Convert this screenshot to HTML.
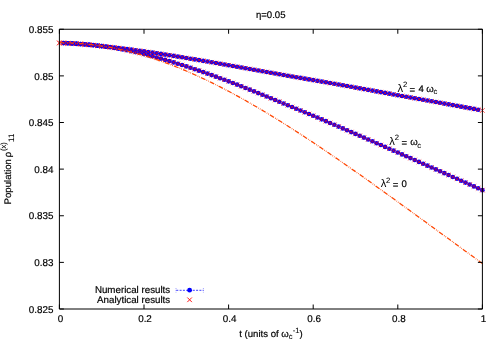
<!DOCTYPE html>
<html><head><meta charset="utf-8"><title>plot</title>
<style>html,body{margin:0;padding:0;background:#fff}svg{display:block;will-change:transform}text{font-family:"Liberation Sans",sans-serif;font-size:9.6px;fill:#000;stroke:#000;stroke-width:0.18px;text-rendering:geometricPrecision}.s{font-size:7.7px;stroke-width:0.08px}</style></head><body>
<svg width="500" height="350" viewBox="0 0 500 350">
<rect width="500" height="350" fill="#fff"/>
<path d="M63.63 43.09 L67.86 43.29 L72.09 43.54 L76.32 43.83 L80.55 44.16 L84.78 44.52 L89.01 44.90 L93.24 45.30 L97.47 45.71 L101.70 46.13 L105.93 46.58 L110.16 47.04 L114.39 47.53 L118.62 48.03 L122.85 48.56 L127.08 49.10 L131.31 49.65 L135.54 50.22 L139.77 50.81 L144.00 51.41 L148.23 52.02 L152.46 52.64 L156.69 53.28 L160.92 53.92 L165.15 54.58 L169.38 55.24 L173.61 55.91 L177.84 56.60 L182.07 57.29 L186.30 57.98 L190.53 58.69 L194.76 59.39 L198.99 60.11 L203.22 60.83 L207.45 61.55 L211.68 62.27 L215.91 63.00 L220.14 63.73 L224.37 64.47 L228.60 65.21 L232.83 65.95 L237.06 66.69 L241.29 67.44 L245.52 68.19 L249.75 68.94 L253.98 69.69 L258.21 70.44 L262.44 71.20 L266.67 71.95 L270.90 72.71 L275.13 73.46 L279.36 74.22 L283.59 74.97 L287.82 75.71 L292.05 76.45 L296.28 77.19 L300.51 77.92 L304.74 78.66 L308.97 79.39 L313.20 80.12 L317.43 80.85 L321.66 81.59 L325.89 82.32 L330.12 83.06 L334.35 83.81 L338.58 84.56 L342.81 85.31 L347.04 86.07 L351.27 86.82 L355.50 87.58 L359.73 88.34 L363.96 89.10 L368.19 89.86 L372.42 90.62 L376.65 91.38 L380.88 92.15 L385.11 92.91 L389.34 93.67 L393.57 94.43 L397.80 95.19 L402.03 95.96 L406.26 96.72 L410.49 97.48 L414.72 98.24 L418.95 99.00 L423.18 99.76 L427.41 100.53 L431.64 101.29 L435.87 102.05 L440.10 102.81 L444.33 103.58 L448.56 104.34 L452.79 105.10 L457.02 105.86 L461.25 106.63 L465.48 107.39 L469.71 108.15 L473.94 108.91 L478.17 109.68" fill="none" stroke="#0000ff" stroke-width="1" stroke-dasharray="2 2"/><g fill="#0000ff"><circle cx="63.63" cy="43.09" r="2.3"/><circle cx="67.86" cy="43.29" r="2.3"/><circle cx="72.09" cy="43.54" r="2.3"/><circle cx="76.32" cy="43.83" r="2.3"/><circle cx="80.55" cy="44.16" r="2.3"/><circle cx="84.78" cy="44.52" r="2.3"/><circle cx="89.01" cy="44.90" r="2.3"/><circle cx="93.24" cy="45.30" r="2.3"/><circle cx="97.47" cy="45.71" r="2.3"/><circle cx="101.70" cy="46.13" r="2.3"/><circle cx="105.93" cy="46.58" r="2.3"/><circle cx="110.16" cy="47.04" r="2.3"/><circle cx="114.39" cy="47.53" r="2.3"/><circle cx="118.62" cy="48.03" r="2.3"/><circle cx="122.85" cy="48.56" r="2.3"/><circle cx="127.08" cy="49.10" r="2.3"/><circle cx="131.31" cy="49.65" r="2.3"/><circle cx="135.54" cy="50.22" r="2.3"/><circle cx="139.77" cy="50.81" r="2.3"/><circle cx="144.00" cy="51.41" r="2.3"/><circle cx="148.23" cy="52.02" r="2.3"/><circle cx="152.46" cy="52.64" r="2.3"/><circle cx="156.69" cy="53.28" r="2.3"/><circle cx="160.92" cy="53.92" r="2.3"/><circle cx="165.15" cy="54.58" r="2.3"/><circle cx="169.38" cy="55.24" r="2.3"/><circle cx="173.61" cy="55.91" r="2.3"/><circle cx="177.84" cy="56.60" r="2.3"/><circle cx="182.07" cy="57.29" r="2.3"/><circle cx="186.30" cy="57.98" r="2.3"/><circle cx="190.53" cy="58.69" r="2.3"/><circle cx="194.76" cy="59.39" r="2.3"/><circle cx="198.99" cy="60.11" r="2.3"/><circle cx="203.22" cy="60.83" r="2.3"/><circle cx="207.45" cy="61.55" r="2.3"/><circle cx="211.68" cy="62.27" r="2.3"/><circle cx="215.91" cy="63.00" r="2.3"/><circle cx="220.14" cy="63.73" r="2.3"/><circle cx="224.37" cy="64.47" r="2.3"/><circle cx="228.60" cy="65.21" r="2.3"/><circle cx="232.83" cy="65.95" r="2.3"/><circle cx="237.06" cy="66.69" r="2.3"/><circle cx="241.29" cy="67.44" r="2.3"/><circle cx="245.52" cy="68.19" r="2.3"/><circle cx="249.75" cy="68.94" r="2.3"/><circle cx="253.98" cy="69.69" r="2.3"/><circle cx="258.21" cy="70.44" r="2.3"/><circle cx="262.44" cy="71.20" r="2.3"/><circle cx="266.67" cy="71.95" r="2.3"/><circle cx="270.90" cy="72.71" r="2.3"/><circle cx="275.13" cy="73.46" r="2.3"/><circle cx="279.36" cy="74.22" r="2.3"/><circle cx="283.59" cy="74.97" r="2.3"/><circle cx="287.82" cy="75.71" r="2.3"/><circle cx="292.05" cy="76.45" r="2.3"/><circle cx="296.28" cy="77.19" r="2.3"/><circle cx="300.51" cy="77.92" r="2.3"/><circle cx="304.74" cy="78.66" r="2.3"/><circle cx="308.97" cy="79.39" r="2.3"/><circle cx="313.20" cy="80.12" r="2.3"/><circle cx="317.43" cy="80.85" r="2.3"/><circle cx="321.66" cy="81.59" r="2.3"/><circle cx="325.89" cy="82.32" r="2.3"/><circle cx="330.12" cy="83.06" r="2.3"/><circle cx="334.35" cy="83.81" r="2.3"/><circle cx="338.58" cy="84.56" r="2.3"/><circle cx="342.81" cy="85.31" r="2.3"/><circle cx="347.04" cy="86.07" r="2.3"/><circle cx="351.27" cy="86.82" r="2.3"/><circle cx="355.50" cy="87.58" r="2.3"/><circle cx="359.73" cy="88.34" r="2.3"/><circle cx="363.96" cy="89.10" r="2.3"/><circle cx="368.19" cy="89.86" r="2.3"/><circle cx="372.42" cy="90.62" r="2.3"/><circle cx="376.65" cy="91.38" r="2.3"/><circle cx="380.88" cy="92.15" r="2.3"/><circle cx="385.11" cy="92.91" r="2.3"/><circle cx="389.34" cy="93.67" r="2.3"/><circle cx="393.57" cy="94.43" r="2.3"/><circle cx="397.80" cy="95.19" r="2.3"/><circle cx="402.03" cy="95.96" r="2.3"/><circle cx="406.26" cy="96.72" r="2.3"/><circle cx="410.49" cy="97.48" r="2.3"/><circle cx="414.72" cy="98.24" r="2.3"/><circle cx="418.95" cy="99.00" r="2.3"/><circle cx="423.18" cy="99.76" r="2.3"/><circle cx="427.41" cy="100.53" r="2.3"/><circle cx="431.64" cy="101.29" r="2.3"/><circle cx="435.87" cy="102.05" r="2.3"/><circle cx="440.10" cy="102.81" r="2.3"/><circle cx="444.33" cy="103.58" r="2.3"/><circle cx="448.56" cy="104.34" r="2.3"/><circle cx="452.79" cy="105.10" r="2.3"/><circle cx="457.02" cy="105.86" r="2.3"/><circle cx="461.25" cy="106.63" r="2.3"/><circle cx="465.48" cy="107.39" r="2.3"/><circle cx="469.71" cy="108.15" r="2.3"/><circle cx="473.94" cy="108.91" r="2.3"/><circle cx="478.17" cy="109.68" r="2.3"/></g><path d="M57.10 40.65l4.6 4.6M57.10 45.25l4.6 -4.6M61.33 40.79l4.6 4.6M61.33 45.39l4.6 -4.6M65.56 40.99l4.6 4.6M65.56 45.59l4.6 -4.6M69.79 41.24l4.6 4.6M69.79 45.84l4.6 -4.6M74.02 41.53l4.6 4.6M74.02 46.13l4.6 -4.6M78.25 41.86l4.6 4.6M78.25 46.46l4.6 -4.6M82.48 42.22l4.6 4.6M82.48 46.82l4.6 -4.6M86.71 42.60l4.6 4.6M86.71 47.20l4.6 -4.6M90.94 43.00l4.6 4.6M90.94 47.60l4.6 -4.6M95.17 43.41l4.6 4.6M95.17 48.01l4.6 -4.6M99.40 43.83l4.6 4.6M99.40 48.43l4.6 -4.6M103.63 44.28l4.6 4.6M103.63 48.88l4.6 -4.6M107.86 44.74l4.6 4.6M107.86 49.34l4.6 -4.6M112.09 45.23l4.6 4.6M112.09 49.83l4.6 -4.6M116.32 45.73l4.6 4.6M116.32 50.33l4.6 -4.6M120.55 46.26l4.6 4.6M120.55 50.86l4.6 -4.6M124.78 46.80l4.6 4.6M124.78 51.40l4.6 -4.6M129.01 47.35l4.6 4.6M129.01 51.95l4.6 -4.6M133.24 47.92l4.6 4.6M133.24 52.52l4.6 -4.6M137.47 48.51l4.6 4.6M137.47 53.11l4.6 -4.6M141.70 49.11l4.6 4.6M141.70 53.71l4.6 -4.6M145.93 49.72l4.6 4.6M145.93 54.32l4.6 -4.6M150.16 50.34l4.6 4.6M150.16 54.94l4.6 -4.6M154.39 50.98l4.6 4.6M154.39 55.58l4.6 -4.6M158.62 51.62l4.6 4.6M158.62 56.22l4.6 -4.6M162.85 52.28l4.6 4.6M162.85 56.88l4.6 -4.6M167.08 52.94l4.6 4.6M167.08 57.54l4.6 -4.6M171.31 53.61l4.6 4.6M171.31 58.21l4.6 -4.6M175.54 54.30l4.6 4.6M175.54 58.90l4.6 -4.6M179.77 54.99l4.6 4.6M179.77 59.59l4.6 -4.6M184.00 55.68l4.6 4.6M184.00 60.28l4.6 -4.6M188.23 56.39l4.6 4.6M188.23 60.99l4.6 -4.6M192.46 57.09l4.6 4.6M192.46 61.69l4.6 -4.6M196.69 57.81l4.6 4.6M196.69 62.41l4.6 -4.6M200.92 58.53l4.6 4.6M200.92 63.13l4.6 -4.6M205.15 59.25l4.6 4.6M205.15 63.85l4.6 -4.6M209.38 59.97l4.6 4.6M209.38 64.57l4.6 -4.6M213.61 60.70l4.6 4.6M213.61 65.30l4.6 -4.6M217.84 61.43l4.6 4.6M217.84 66.03l4.6 -4.6M222.07 62.17l4.6 4.6M222.07 66.77l4.6 -4.6M226.30 62.91l4.6 4.6M226.30 67.51l4.6 -4.6M230.53 63.65l4.6 4.6M230.53 68.25l4.6 -4.6M234.76 64.39l4.6 4.6M234.76 68.99l4.6 -4.6M238.99 65.14l4.6 4.6M238.99 69.74l4.6 -4.6M243.22 65.89l4.6 4.6M243.22 70.49l4.6 -4.6M247.45 66.64l4.6 4.6M247.45 71.24l4.6 -4.6M251.68 67.39l4.6 4.6M251.68 71.99l4.6 -4.6M255.91 68.14l4.6 4.6M255.91 72.74l4.6 -4.6M260.14 68.90l4.6 4.6M260.14 73.50l4.6 -4.6M264.37 69.65l4.6 4.6M264.37 74.25l4.6 -4.6M268.60 70.41l4.6 4.6M268.60 75.01l4.6 -4.6M272.83 71.16l4.6 4.6M272.83 75.76l4.6 -4.6M277.06 71.92l4.6 4.6M277.06 76.52l4.6 -4.6M281.29 72.67l4.6 4.6M281.29 77.27l4.6 -4.6M285.52 73.41l4.6 4.6M285.52 78.01l4.6 -4.6M289.75 74.15l4.6 4.6M289.75 78.75l4.6 -4.6M293.98 74.89l4.6 4.6M293.98 79.49l4.6 -4.6M298.21 75.62l4.6 4.6M298.21 80.22l4.6 -4.6M302.44 76.36l4.6 4.6M302.44 80.96l4.6 -4.6M306.67 77.09l4.6 4.6M306.67 81.69l4.6 -4.6M310.90 77.82l4.6 4.6M310.90 82.42l4.6 -4.6M315.13 78.55l4.6 4.6M315.13 83.15l4.6 -4.6M319.36 79.29l4.6 4.6M319.36 83.89l4.6 -4.6M323.59 80.02l4.6 4.6M323.59 84.62l4.6 -4.6M327.82 80.76l4.6 4.6M327.82 85.36l4.6 -4.6M332.05 81.51l4.6 4.6M332.05 86.11l4.6 -4.6M336.28 82.26l4.6 4.6M336.28 86.86l4.6 -4.6M340.51 83.01l4.6 4.6M340.51 87.61l4.6 -4.6M344.74 83.77l4.6 4.6M344.74 88.37l4.6 -4.6M348.97 84.52l4.6 4.6M348.97 89.12l4.6 -4.6M353.20 85.28l4.6 4.6M353.20 89.88l4.6 -4.6M357.43 86.04l4.6 4.6M357.43 90.64l4.6 -4.6M361.66 86.80l4.6 4.6M361.66 91.40l4.6 -4.6M365.89 87.56l4.6 4.6M365.89 92.16l4.6 -4.6M370.12 88.32l4.6 4.6M370.12 92.92l4.6 -4.6M374.35 89.08l4.6 4.6M374.35 93.68l4.6 -4.6M378.58 89.85l4.6 4.6M378.58 94.45l4.6 -4.6M382.81 90.61l4.6 4.6M382.81 95.21l4.6 -4.6M387.04 91.37l4.6 4.6M387.04 95.97l4.6 -4.6M391.27 92.13l4.6 4.6M391.27 96.73l4.6 -4.6M395.50 92.89l4.6 4.6M395.50 97.49l4.6 -4.6M399.73 93.66l4.6 4.6M399.73 98.26l4.6 -4.6M403.96 94.42l4.6 4.6M403.96 99.02l4.6 -4.6M408.19 95.18l4.6 4.6M408.19 99.78l4.6 -4.6M412.42 95.94l4.6 4.6M412.42 100.54l4.6 -4.6M416.65 96.70l4.6 4.6M416.65 101.30l4.6 -4.6M420.88 97.46l4.6 4.6M420.88 102.06l4.6 -4.6M425.11 98.23l4.6 4.6M425.11 102.83l4.6 -4.6M429.34 98.99l4.6 4.6M429.34 103.59l4.6 -4.6M433.57 99.75l4.6 4.6M433.57 104.35l4.6 -4.6M437.80 100.51l4.6 4.6M437.80 105.11l4.6 -4.6M442.03 101.28l4.6 4.6M442.03 105.88l4.6 -4.6M446.26 102.04l4.6 4.6M446.26 106.64l4.6 -4.6M450.49 102.80l4.6 4.6M450.49 107.40l4.6 -4.6M454.72 103.56l4.6 4.6M454.72 108.16l4.6 -4.6M458.95 104.33l4.6 4.6M458.95 108.93l4.6 -4.6M463.18 105.09l4.6 4.6M463.18 109.69l4.6 -4.6M467.41 105.85l4.6 4.6M467.41 110.45l4.6 -4.6M471.64 106.61l4.6 4.6M471.64 111.21l4.6 -4.6M475.87 107.38l4.6 4.6M475.87 111.98l4.6 -4.6M480.10 108.14l4.6 4.6M480.10 112.74l4.6 -4.6" fill="none" stroke="#ff0000" stroke-width="0.65"/>
<path d="M63.63 43.07 L67.86 43.22 L72.09 43.42 L76.32 43.66 L80.55 43.95 L84.78 44.29 L89.01 44.67 L93.24 45.11 L97.47 45.58 L101.70 46.10 L105.93 46.68 L110.16 47.30 L114.39 47.97 L118.62 48.70 L122.85 49.47 L127.08 50.30 L131.31 51.18 L135.54 52.10 L139.77 53.07 L144.00 54.09 L148.23 55.16 L152.46 56.27 L156.69 57.43 L160.92 58.62 L165.15 59.84 L169.38 61.09 L173.61 62.38 L177.84 63.69 L182.07 65.02 L186.30 66.38 L190.53 67.77 L194.76 69.19 L198.99 70.63 L203.22 72.10 L207.45 73.59 L211.68 75.10 L215.91 76.64 L220.14 78.19 L224.37 79.77 L228.60 81.36 L232.83 82.97 L237.06 84.61 L241.29 86.27 L245.52 87.95 L249.75 89.65 L253.98 91.36 L258.21 93.08 L262.44 94.80 L266.67 96.53 L270.90 98.27 L275.13 100.00 L279.36 101.74 L283.59 103.48 L287.82 105.22 L292.05 106.97 L296.28 108.73 L300.51 110.48 L304.74 112.24 L308.97 114.01 L313.20 115.79 L317.43 117.57 L321.66 119.35 L325.89 121.15 L330.12 122.95 L334.35 124.76 L338.58 126.58 L342.81 128.41 L347.04 130.24 L351.27 132.08 L355.50 133.92 L359.73 135.77 L363.96 137.62 L368.19 139.47 L372.42 141.32 L376.65 143.18 L380.88 145.04 L385.11 146.90 L389.34 148.77 L393.57 150.64 L397.80 152.51 L402.03 154.38 L406.26 156.25 L410.49 158.12 L414.72 160.00 L418.95 161.88 L423.18 163.76 L427.41 165.64 L431.64 167.52 L435.87 169.40 L440.10 171.28 L444.33 173.17 L448.56 175.05 L452.79 176.94 L457.02 178.82 L461.25 180.71 L465.48 182.60 L469.71 184.49 L473.94 186.38 L478.17 188.27 L482.40 190.16" fill="none" stroke="#0000ff" stroke-width="1" stroke-dasharray="2 2"/><g fill="#0000ff"><circle cx="63.63" cy="43.07" r="2.3"/><circle cx="67.86" cy="43.22" r="2.3"/><circle cx="72.09" cy="43.42" r="2.3"/><circle cx="76.32" cy="43.66" r="2.3"/><circle cx="80.55" cy="43.95" r="2.3"/><circle cx="84.78" cy="44.29" r="2.3"/><circle cx="89.01" cy="44.67" r="2.3"/><circle cx="93.24" cy="45.11" r="2.3"/><circle cx="97.47" cy="45.58" r="2.3"/><circle cx="101.70" cy="46.10" r="2.3"/><circle cx="105.93" cy="46.68" r="2.3"/><circle cx="110.16" cy="47.30" r="2.3"/><circle cx="114.39" cy="47.97" r="2.3"/><circle cx="118.62" cy="48.70" r="2.3"/><circle cx="122.85" cy="49.47" r="2.3"/><circle cx="127.08" cy="50.30" r="2.3"/><circle cx="131.31" cy="51.18" r="2.3"/><circle cx="135.54" cy="52.10" r="2.3"/><circle cx="139.77" cy="53.07" r="2.3"/><circle cx="144.00" cy="54.09" r="2.3"/><circle cx="148.23" cy="55.16" r="2.3"/><circle cx="152.46" cy="56.27" r="2.3"/><circle cx="156.69" cy="57.43" r="2.3"/><circle cx="160.92" cy="58.62" r="2.3"/><circle cx="165.15" cy="59.84" r="2.3"/><circle cx="169.38" cy="61.09" r="2.3"/><circle cx="173.61" cy="62.38" r="2.3"/><circle cx="177.84" cy="63.69" r="2.3"/><circle cx="182.07" cy="65.02" r="2.3"/><circle cx="186.30" cy="66.38" r="2.3"/><circle cx="190.53" cy="67.77" r="2.3"/><circle cx="194.76" cy="69.19" r="2.3"/><circle cx="198.99" cy="70.63" r="2.3"/><circle cx="203.22" cy="72.10" r="2.3"/><circle cx="207.45" cy="73.59" r="2.3"/><circle cx="211.68" cy="75.10" r="2.3"/><circle cx="215.91" cy="76.64" r="2.3"/><circle cx="220.14" cy="78.19" r="2.3"/><circle cx="224.37" cy="79.77" r="2.3"/><circle cx="228.60" cy="81.36" r="2.3"/><circle cx="232.83" cy="82.97" r="2.3"/><circle cx="237.06" cy="84.61" r="2.3"/><circle cx="241.29" cy="86.27" r="2.3"/><circle cx="245.52" cy="87.95" r="2.3"/><circle cx="249.75" cy="89.65" r="2.3"/><circle cx="253.98" cy="91.36" r="2.3"/><circle cx="258.21" cy="93.08" r="2.3"/><circle cx="262.44" cy="94.80" r="2.3"/><circle cx="266.67" cy="96.53" r="2.3"/><circle cx="270.90" cy="98.27" r="2.3"/><circle cx="275.13" cy="100.00" r="2.3"/><circle cx="279.36" cy="101.74" r="2.3"/><circle cx="283.59" cy="103.48" r="2.3"/><circle cx="287.82" cy="105.22" r="2.3"/><circle cx="292.05" cy="106.97" r="2.3"/><circle cx="296.28" cy="108.73" r="2.3"/><circle cx="300.51" cy="110.48" r="2.3"/><circle cx="304.74" cy="112.24" r="2.3"/><circle cx="308.97" cy="114.01" r="2.3"/><circle cx="313.20" cy="115.79" r="2.3"/><circle cx="317.43" cy="117.57" r="2.3"/><circle cx="321.66" cy="119.35" r="2.3"/><circle cx="325.89" cy="121.15" r="2.3"/><circle cx="330.12" cy="122.95" r="2.3"/><circle cx="334.35" cy="124.76" r="2.3"/><circle cx="338.58" cy="126.58" r="2.3"/><circle cx="342.81" cy="128.41" r="2.3"/><circle cx="347.04" cy="130.24" r="2.3"/><circle cx="351.27" cy="132.08" r="2.3"/><circle cx="355.50" cy="133.92" r="2.3"/><circle cx="359.73" cy="135.77" r="2.3"/><circle cx="363.96" cy="137.62" r="2.3"/><circle cx="368.19" cy="139.47" r="2.3"/><circle cx="372.42" cy="141.32" r="2.3"/><circle cx="376.65" cy="143.18" r="2.3"/><circle cx="380.88" cy="145.04" r="2.3"/><circle cx="385.11" cy="146.90" r="2.3"/><circle cx="389.34" cy="148.77" r="2.3"/><circle cx="393.57" cy="150.64" r="2.3"/><circle cx="397.80" cy="152.51" r="2.3"/><circle cx="402.03" cy="154.38" r="2.3"/><circle cx="406.26" cy="156.25" r="2.3"/><circle cx="410.49" cy="158.12" r="2.3"/><circle cx="414.72" cy="160.00" r="2.3"/><circle cx="418.95" cy="161.88" r="2.3"/><circle cx="423.18" cy="163.76" r="2.3"/><circle cx="427.41" cy="165.64" r="2.3"/><circle cx="431.64" cy="167.52" r="2.3"/><circle cx="435.87" cy="169.40" r="2.3"/><circle cx="440.10" cy="171.28" r="2.3"/><circle cx="444.33" cy="173.17" r="2.3"/><circle cx="448.56" cy="175.05" r="2.3"/><circle cx="452.79" cy="176.94" r="2.3"/><circle cx="457.02" cy="178.82" r="2.3"/><circle cx="461.25" cy="180.71" r="2.3"/><circle cx="465.48" cy="182.60" r="2.3"/><circle cx="469.71" cy="184.49" r="2.3"/><circle cx="473.94" cy="186.38" r="2.3"/><circle cx="478.17" cy="188.27" r="2.3"/><circle cx="482.40" cy="190.16" r="2.3"/></g><path d="M57.10 40.65l4.6 4.6M57.10 45.25l4.6 -4.6M61.33 40.77l4.6 4.6M61.33 45.37l4.6 -4.6M65.56 40.92l4.6 4.6M65.56 45.52l4.6 -4.6M69.79 41.12l4.6 4.6M69.79 45.72l4.6 -4.6M74.02 41.36l4.6 4.6M74.02 45.96l4.6 -4.6M78.25 41.65l4.6 4.6M78.25 46.25l4.6 -4.6M82.48 41.99l4.6 4.6M82.48 46.59l4.6 -4.6M86.71 42.37l4.6 4.6M86.71 46.97l4.6 -4.6M90.94 42.81l4.6 4.6M90.94 47.41l4.6 -4.6M95.17 43.28l4.6 4.6M95.17 47.88l4.6 -4.6M99.40 43.80l4.6 4.6M99.40 48.40l4.6 -4.6M103.63 44.38l4.6 4.6M103.63 48.98l4.6 -4.6M107.86 45.00l4.6 4.6M107.86 49.60l4.6 -4.6M112.09 45.67l4.6 4.6M112.09 50.27l4.6 -4.6M116.32 46.40l4.6 4.6M116.32 51.00l4.6 -4.6M120.55 47.17l4.6 4.6M120.55 51.77l4.6 -4.6M124.78 48.00l4.6 4.6M124.78 52.60l4.6 -4.6M129.01 48.88l4.6 4.6M129.01 53.48l4.6 -4.6M133.24 49.80l4.6 4.6M133.24 54.40l4.6 -4.6M137.47 50.77l4.6 4.6M137.47 55.37l4.6 -4.6M141.70 51.79l4.6 4.6M141.70 56.39l4.6 -4.6M145.93 52.86l4.6 4.6M145.93 57.46l4.6 -4.6M150.16 53.97l4.6 4.6M150.16 58.57l4.6 -4.6M154.39 55.13l4.6 4.6M154.39 59.73l4.6 -4.6M158.62 56.32l4.6 4.6M158.62 60.92l4.6 -4.6M162.85 57.54l4.6 4.6M162.85 62.14l4.6 -4.6M167.08 58.79l4.6 4.6M167.08 63.39l4.6 -4.6M171.31 60.08l4.6 4.6M171.31 64.68l4.6 -4.6M175.54 61.39l4.6 4.6M175.54 65.99l4.6 -4.6M179.77 62.72l4.6 4.6M179.77 67.32l4.6 -4.6M184.00 64.08l4.6 4.6M184.00 68.68l4.6 -4.6M188.23 65.47l4.6 4.6M188.23 70.07l4.6 -4.6M192.46 66.89l4.6 4.6M192.46 71.49l4.6 -4.6M196.69 68.33l4.6 4.6M196.69 72.93l4.6 -4.6M200.92 69.80l4.6 4.6M200.92 74.40l4.6 -4.6M205.15 71.29l4.6 4.6M205.15 75.89l4.6 -4.6M209.38 72.80l4.6 4.6M209.38 77.40l4.6 -4.6M213.61 74.34l4.6 4.6M213.61 78.94l4.6 -4.6M217.84 75.89l4.6 4.6M217.84 80.49l4.6 -4.6M222.07 77.47l4.6 4.6M222.07 82.07l4.6 -4.6M226.30 79.06l4.6 4.6M226.30 83.66l4.6 -4.6M230.53 80.67l4.6 4.6M230.53 85.27l4.6 -4.6M234.76 82.31l4.6 4.6M234.76 86.91l4.6 -4.6M238.99 83.97l4.6 4.6M238.99 88.57l4.6 -4.6M243.22 85.65l4.6 4.6M243.22 90.25l4.6 -4.6M247.45 87.35l4.6 4.6M247.45 91.95l4.6 -4.6M251.68 89.06l4.6 4.6M251.68 93.66l4.6 -4.6M255.91 90.78l4.6 4.6M255.91 95.38l4.6 -4.6M260.14 92.50l4.6 4.6M260.14 97.10l4.6 -4.6M264.37 94.23l4.6 4.6M264.37 98.83l4.6 -4.6M268.60 95.97l4.6 4.6M268.60 100.57l4.6 -4.6M272.83 97.70l4.6 4.6M272.83 102.30l4.6 -4.6M277.06 99.44l4.6 4.6M277.06 104.04l4.6 -4.6M281.29 101.18l4.6 4.6M281.29 105.78l4.6 -4.6M285.52 102.92l4.6 4.6M285.52 107.52l4.6 -4.6M289.75 104.67l4.6 4.6M289.75 109.27l4.6 -4.6M293.98 106.43l4.6 4.6M293.98 111.03l4.6 -4.6M298.21 108.18l4.6 4.6M298.21 112.78l4.6 -4.6M302.44 109.94l4.6 4.6M302.44 114.54l4.6 -4.6M306.67 111.71l4.6 4.6M306.67 116.31l4.6 -4.6M310.90 113.49l4.6 4.6M310.90 118.09l4.6 -4.6M315.13 115.27l4.6 4.6M315.13 119.87l4.6 -4.6M319.36 117.05l4.6 4.6M319.36 121.65l4.6 -4.6M323.59 118.85l4.6 4.6M323.59 123.45l4.6 -4.6M327.82 120.65l4.6 4.6M327.82 125.25l4.6 -4.6M332.05 122.46l4.6 4.6M332.05 127.06l4.6 -4.6M336.28 124.28l4.6 4.6M336.28 128.88l4.6 -4.6M340.51 126.11l4.6 4.6M340.51 130.71l4.6 -4.6M344.74 127.94l4.6 4.6M344.74 132.54l4.6 -4.6M348.97 129.78l4.6 4.6M348.97 134.38l4.6 -4.6M353.20 131.62l4.6 4.6M353.20 136.22l4.6 -4.6M357.43 133.47l4.6 4.6M357.43 138.07l4.6 -4.6M361.66 135.32l4.6 4.6M361.66 139.92l4.6 -4.6M365.89 137.17l4.6 4.6M365.89 141.77l4.6 -4.6M370.12 139.02l4.6 4.6M370.12 143.62l4.6 -4.6M374.35 140.88l4.6 4.6M374.35 145.48l4.6 -4.6M378.58 142.74l4.6 4.6M378.58 147.34l4.6 -4.6M382.81 144.60l4.6 4.6M382.81 149.20l4.6 -4.6M387.04 146.47l4.6 4.6M387.04 151.07l4.6 -4.6M391.27 148.34l4.6 4.6M391.27 152.94l4.6 -4.6M395.50 150.21l4.6 4.6M395.50 154.81l4.6 -4.6M399.73 152.08l4.6 4.6M399.73 156.68l4.6 -4.6M403.96 153.95l4.6 4.6M403.96 158.55l4.6 -4.6M408.19 155.82l4.6 4.6M408.19 160.42l4.6 -4.6M412.42 157.70l4.6 4.6M412.42 162.30l4.6 -4.6M416.65 159.58l4.6 4.6M416.65 164.18l4.6 -4.6M420.88 161.46l4.6 4.6M420.88 166.06l4.6 -4.6M425.11 163.34l4.6 4.6M425.11 167.94l4.6 -4.6M429.34 165.22l4.6 4.6M429.34 169.82l4.6 -4.6M433.57 167.10l4.6 4.6M433.57 171.70l4.6 -4.6M437.80 168.98l4.6 4.6M437.80 173.58l4.6 -4.6M442.03 170.87l4.6 4.6M442.03 175.47l4.6 -4.6M446.26 172.75l4.6 4.6M446.26 177.35l4.6 -4.6M450.49 174.64l4.6 4.6M450.49 179.24l4.6 -4.6M454.72 176.52l4.6 4.6M454.72 181.12l4.6 -4.6M458.95 178.41l4.6 4.6M458.95 183.01l4.6 -4.6M463.18 180.30l4.6 4.6M463.18 184.90l4.6 -4.6M467.41 182.19l4.6 4.6M467.41 186.79l4.6 -4.6M471.64 184.08l4.6 4.6M471.64 188.68l4.6 -4.6M475.87 185.97l4.6 4.6M475.87 190.57l4.6 -4.6M480.10 187.86l4.6 4.6M480.10 192.46l4.6 -4.6" fill="none" stroke="#ff0000" stroke-width="0.65"/>
<path d="M59.40 42.74 L60.81 42.74 L62.22 42.75 L63.63 42.77 L65.04 42.80 L66.45 42.83 L67.86 42.87 L69.27 42.92 L70.68 42.97 L72.09 43.04 L73.50 43.11 L74.91 43.18 L76.32 43.27 L77.73 43.36 L79.14 43.46 L80.55 43.56 L81.96 43.68 L83.37 43.80 L84.78 43.92 L86.19 44.06 L87.60 44.20 L89.01 44.35 L90.42 44.51 L91.83 44.67 L93.24 44.84 L94.65 45.02 L96.06 45.21 L97.47 45.40 L98.88 45.60 L100.29 45.80 L101.70 46.02 L103.11 46.24 L104.52 46.47 L105.93 46.70 L107.34 46.94 L108.75 47.19 L110.16 47.45 L111.57 47.71 L112.98 47.98 L114.39 48.26 L115.80 48.54 L117.21 48.84 L118.62 49.13 L120.03 49.44 L121.44 49.75 L122.85 50.07 L124.26 50.39 L125.67 50.72 L127.08 51.06 L128.49 51.41 L129.90 51.76 L131.31 52.12 L132.72 52.48 L134.13 52.86 L135.54 53.24 L136.95 53.62 L138.36 54.01 L139.77 54.41 L141.18 54.82 L142.59 55.23 L144.00 55.64 L145.41 56.07 L146.82 56.50 L148.23 56.94 L149.64 57.38 L151.05 57.83 L152.46 58.29 L153.87 58.75 L155.28 59.22 L156.69 59.69 L158.10 60.17 L159.51 60.66 L160.92 61.15 L162.33 61.65 L163.74 62.16 L165.15 62.67 L166.56 63.18 L167.97 63.71 L169.38 64.24 L170.79 64.77 L172.20 65.31 L173.61 65.86 L175.02 66.41 L176.43 66.97 L177.84 67.53 L179.25 68.10 L180.66 68.67 L182.07 69.25 L183.48 69.84 L184.89 70.43 L186.30 71.03 L187.71 71.63 L189.12 72.24 L190.53 72.85 L191.94 73.47 L193.35 74.10 L194.76 74.72 L196.17 75.36 L197.58 76.00 L198.99 76.64 L200.40 77.29 L201.81 77.95 L203.22 78.61 L204.63 79.27 L206.04 79.94 L207.45 80.62 L208.86 81.30 L210.27 81.98 L211.68 82.67 L213.09 83.37 L214.50 84.07 L215.91 84.77 L217.32 85.48 L218.73 86.19 L220.14 86.91 L221.55 87.63 L222.96 88.36 L224.37 89.09 L225.78 89.83 L227.19 90.57 L228.60 91.31 L230.01 92.06 L231.42 92.81 L232.83 93.57 L234.24 94.33 L235.65 95.10 L237.06 95.87 L238.47 96.64 L239.88 97.42 L241.29 98.20 L242.70 98.99 L244.11 99.78 L245.52 100.57 L246.93 101.37 L248.34 102.17 L249.75 102.98 L251.16 103.79 L252.57 104.60 L253.98 105.42 L255.39 106.24 L256.80 107.06 L258.21 107.89 L259.62 108.72 L261.03 109.56 L262.44 110.39 L263.85 111.23 L265.26 112.08 L266.67 112.93 L268.08 113.78 L269.49 114.63 L270.90 115.49 L272.31 116.35 L273.72 117.22 L275.13 118.09 L276.54 118.96 L277.95 119.83 L279.36 120.71 L280.77 121.59 L282.18 122.47 L283.59 123.36 L285.00 124.24 L286.41 125.14 L287.82 126.03 L289.23 126.93 L290.64 127.83 L292.05 128.73 L293.46 129.64 L294.87 130.54 L296.28 131.45 L297.69 132.37 L299.10 133.28 L300.51 134.20 L301.92 135.12 L303.33 136.04 L304.74 136.97 L306.15 137.90 L307.56 138.83 L308.97 139.76 L310.38 140.69 L311.79 141.63 L313.20 142.57 L314.61 143.51 L316.02 144.46 L317.43 145.40 L318.84 146.35 L320.25 147.30 L321.66 148.25 L323.07 149.20 L324.48 150.16 L325.89 151.12 L327.30 152.08 L328.71 153.04 L330.12 154.00 L331.53 154.97 L332.94 155.93 L334.35 156.90 L335.76 157.87 L337.17 158.85 L338.58 159.82 L339.99 160.80 L341.40 161.77 L342.81 162.75 L344.22 163.73 L345.63 164.71 L347.04 165.70 L348.45 166.68 L349.86 167.67 L351.27 168.65 L352.68 169.64 L354.09 170.63 L355.50 171.62 L356.91 172.62 L358.32 173.61 L359.73 174.61 L361.14 175.60 L362.55 176.60 L363.96 177.60 L365.37 178.60 L366.78 179.60 L368.19 180.60 L369.60 181.61 L371.01 182.61 L372.42 183.62 L373.83 184.62 L375.24 185.63 L376.65 186.64 L378.06 187.65 L379.47 188.66 L380.88 189.67 L382.29 190.68 L383.70 191.70 L385.11 192.71 L386.52 193.72 L387.93 194.74 L389.34 195.76 L390.75 196.77 L392.16 197.79 L393.57 198.81 L394.98 199.83 L396.39 200.85 L397.80 201.87 L399.21 202.89 L400.62 203.91 L402.03 204.93 L403.44 205.95 L404.85 206.98 L406.26 208.00 L407.67 209.02 L409.08 210.05 L410.49 211.07 L411.90 212.10 L413.31 213.12 L414.72 214.15 L416.13 215.18 L417.54 216.20 L418.95 217.23 L420.36 218.26 L421.77 219.28 L423.18 220.31 L424.59 221.34 L426.00 222.37 L427.41 223.40 L428.82 224.43 L430.23 225.46 L431.64 226.48 L433.05 227.51 L434.46 228.54 L435.87 229.57 L437.28 230.60 L438.69 231.63 L440.10 232.66 L441.51 233.69 L442.92 234.72 L444.33 235.75 L445.74 236.78 L447.15 237.81 L448.56 238.84 L449.97 239.87 L451.38 240.90 L452.79 241.93 L454.20 242.96 L455.61 243.99 L457.02 245.02 L458.43 246.05 L459.84 247.08 L461.25 248.11 L462.66 249.14 L464.07 250.17 L465.48 251.20 L466.89 252.23 L468.30 253.25 L469.71 254.28 L471.12 255.31 L472.53 256.34 L473.94 257.36 L475.35 258.39 L476.76 259.42 L478.17 260.44 L479.58 261.47 L480.99 262.50 L482.40 263.52" fill="none" stroke="#ff4500" stroke-width="1.25" stroke-dasharray="4.8 1.3 0.7 1.1 0.7 1.2"/>
<path d="M59.4 29.25H482.4V309.0H59.4ZM59.4 29.25h4.5M482.4 29.25h-4.5M59.4 75.88h4.5M482.4 75.88h-4.5M59.4 122.50h4.5M482.4 122.50h-4.5M59.4 169.12h4.5M482.4 169.12h-4.5M59.4 215.75h4.5M482.4 215.75h-4.5M59.4 262.38h4.5M482.4 262.38h-4.5M59.4 309.00h4.5M482.4 309.00h-4.5M59.40 309.0v-4.5M59.40 29.25v4.5M144.00 309.0v-4.5M144.00 29.25v4.5M228.60 309.0v-4.5M228.60 29.25v4.5M313.20 309.0v-4.5M313.20 29.25v4.5M397.80 309.0v-4.5M397.80 29.25v4.5M482.40 309.0v-4.5M482.40 29.25v4.5" fill="none" stroke="#000" stroke-width="1"/>
<text x="53.4" y="32.9" text-anchor="end" style="font-size:9.85px">0.855</text>
<text x="53.4" y="79.5" text-anchor="end" style="font-size:9.85px">0.85</text>
<text x="53.4" y="126.2" text-anchor="end" style="font-size:9.85px">0.845</text>
<text x="53.4" y="172.8" text-anchor="end" style="font-size:9.85px">0.84</text>
<text x="53.4" y="219.4" text-anchor="end" style="font-size:9.85px">0.835</text>
<text x="53.4" y="266.0" text-anchor="end" style="font-size:9.85px">0.83</text>
<text x="53.4" y="312.6" text-anchor="end" style="font-size:9.85px">0.825</text>
<text x="60.4" y="321.9" text-anchor="middle" style="font-size:9.85px">0</text>
<text x="145.0" y="321.9" text-anchor="middle" style="font-size:9.85px">0.2</text>
<text x="229.6" y="321.9" text-anchor="middle" style="font-size:9.85px">0.4</text>
<text x="314.2" y="321.9" text-anchor="middle" style="font-size:9.85px">0.6</text>
<text x="398.8" y="321.9" text-anchor="middle" style="font-size:9.85px">0.8</text>
<text x="483.4" y="321.9" text-anchor="middle" style="font-size:9.85px">1</text>
<text x="270.7" y="18.3" text-anchor="middle">η=0.05</text>
<text x="239.2" y="336.6">t (units of ω<tspan class="s" x="288.8" y="339.4">c</tspan><tspan class="s" x="292.8" y="332.6">-1</tspan><tspan x="299.4" y="336.6">)</tspan></text>
<text transform="translate(10.5 204.4) rotate(-90)" x="0" y="0">Population<tspan x="47.1">ρ</tspan><tspan class="s" x="53.3" y="-4.6">(x)</tspan><tspan class="s" x="62.5" y="3.5" style="font-size:8px">11</tspan></text>
<text y="91.7"><tspan x="397.6" y="91.7" style="font-size:11.2px;stroke-width:0">λ</tspan><tspan class="s" x="402.9" y="86.8">2</tspan><tspan x="409.6" y="92.7">=</tspan><tspan x="418.4" y="91.7">4</tspan><tspan x="426.3" y="91.7">ω</tspan><tspan class="s" x="433.4" y="94.4">c</tspan></text>
<text y="145.0"><tspan x="389.3" y="145.0" style="font-size:11.2px;stroke-width:0">λ</tspan><tspan class="s" x="394.7" y="140.1">2</tspan><tspan x="401.4" y="146.0">=</tspan><tspan x="410.3" y="145.0">ω</tspan><tspan class="s" x="417.3" y="147.7">c</tspan></text>
<text y="187.4"><tspan x="380.7" y="187.4" style="font-size:11.2px;stroke-width:0">λ</tspan><tspan class="s" x="386.1" y="182.5">2</tspan><tspan x="392.8" y="188.4">=</tspan><tspan x="401.4" y="187.4">0</tspan></text>
<text x="170.2" y="293.4" text-anchor="end" style="font-size:9.75px">Numerical results</text>
<text x="170.2" y="302.8" text-anchor="end" style="font-size:9.75px">Analytical results</text>
<path d="M176.3 290.3H203.4" stroke="#0000ff" stroke-width="0.9" stroke-opacity="0.85" stroke-dasharray="2 1.3" fill="none"/><path d="M176 288v4.6M203.4 288v4.6" stroke="#0000ff" stroke-width="0.8" stroke-opacity="0.45" stroke-dasharray="1.2 0.8" fill="none"/><circle cx="189.6" cy="290.2" r="2.4" fill="#0000ff"/>
<path d="M187.3 297.5l4.6 4.6M187.3 302.1l4.6 -4.6" stroke="#ff0000" stroke-width="0.9" fill="none"/>
</svg></body></html>
